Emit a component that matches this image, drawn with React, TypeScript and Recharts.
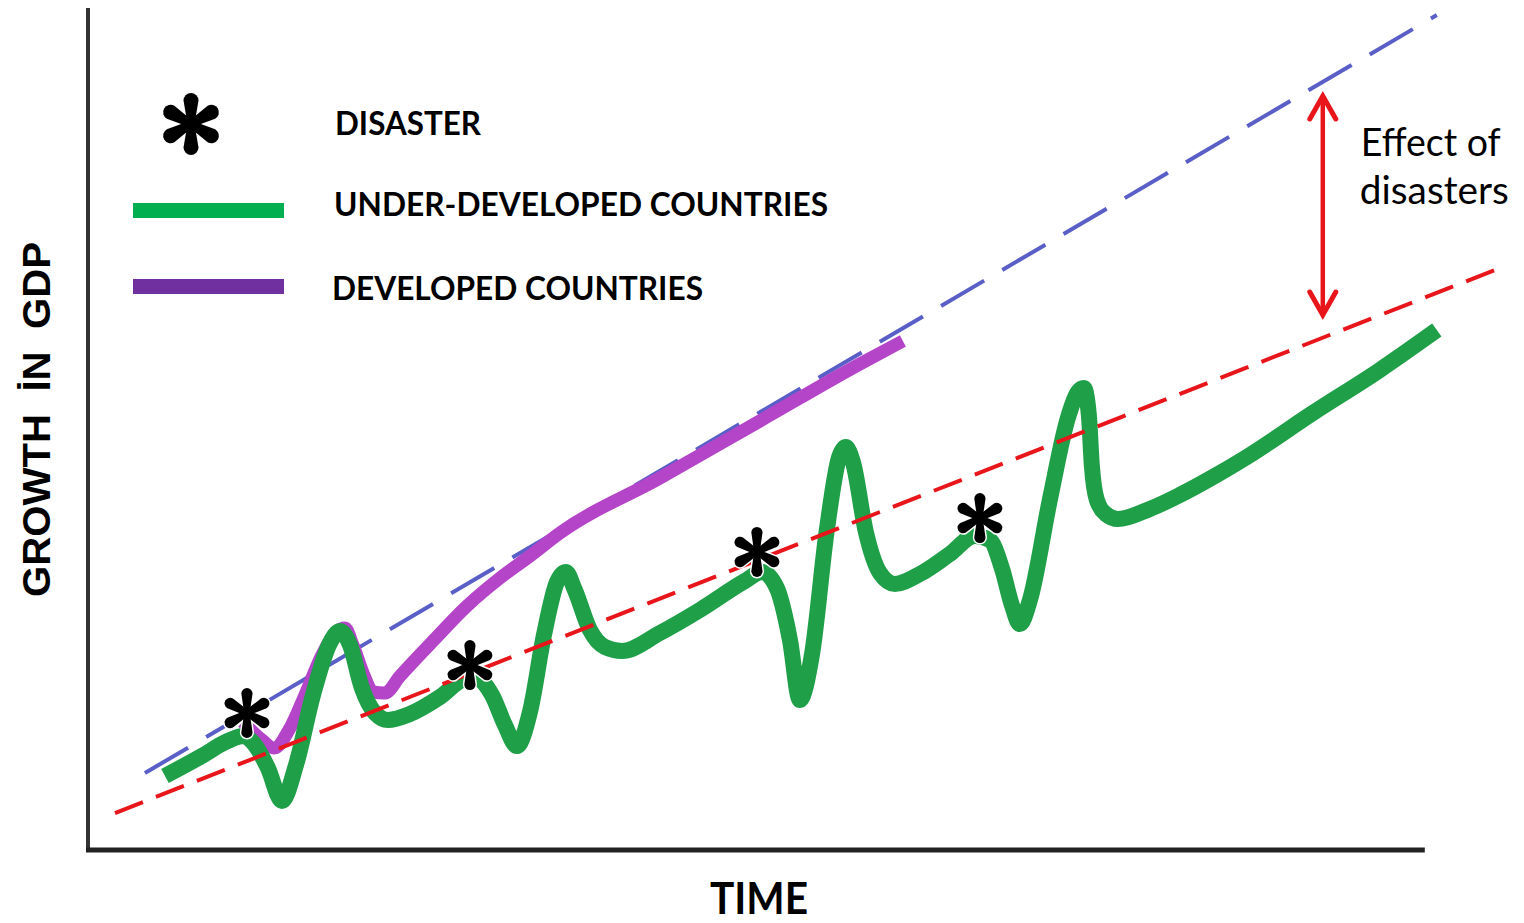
import React from 'react';
import { ComposedChart, Line, Scatter, XAxis, YAxis, ReferenceLine, Legend } from 'recharts';

// ---- data (time units on X, GDP growth units on Y) ----
const underDevTime = [5.76, 8.38, 10.47, 11.59, 12.49, 13.46, 14.51, 15.56, 16.83, 18.10, 18.85, 19.60, 20.49, 21.47, 22.44, 24.08, 26.33, 28.20, 29.02, 30.22, 31.19, 32.09, 33.06, 34.11, 35.08, 35.75, 36.42, 37.55, 38.67, 39.94, 42.78, 45.77, 49.14, 50.41, 51.53, 52.51, 53.25, 54.15, 55.27, 56.17, 56.69, 57.22, 58.19, 59.24, 60.36, 62.23, 64.47, 66.34, 67.46, 68.36, 69.11, 69.71, 70.46, 71.95, 73.30, 74.05, 74.49, 74.87, 75.09, 75.47, 76.14, 77.04, 79.43, 81.67, 84.29, 86.69, 91.62, 96.63, 100.90];
const underDevGdp = [8.81, 11.07, 12.98, 13.57, 12.50, 9.76, 5.83, 10.12, 18.45, 24.64, 26.07, 24.40, 19.29, 16.31, 15.48, 16.19, 18.21, 20.36, 20.48, 18.45, 14.88, 12.38, 16.43, 25.60, 31.90, 33.10, 30.95, 26.19, 24.17, 23.69, 25.83, 28.57, 32.02, 33.10, 31.19, 25.00, 17.86, 23.21, 38.10, 46.67, 47.98, 46.19, 37.86, 32.98, 31.67, 32.86, 35.24, 37.38, 36.90, 33.57, 29.17, 26.90, 29.76, 41.67, 51.43, 54.52, 55.00, 51.79, 45.83, 41.67, 40.00, 39.40, 40.60, 42.26, 44.52, 46.79, 52.02, 57.14, 61.90];

const developedTime = [11.59, 13.01, 13.91, 15.11, 16.23, 17.50, 18.55, 19.22, 19.82, 20.64, 21.32, 22.21, 23.34, 25.80, 28.35, 30.82, 33.06, 35.30, 42.78, 50.26, 57.74, 60.96];
const developedGdp = [15.24, 13.10, 12.14, 14.52, 18.45, 23.21, 25.95, 26.43, 24.40, 20.83, 18.81, 18.69, 20.71, 24.88, 29.05, 32.38, 35.00, 37.74, 44.29, 51.07, 57.86, 60.60];

const disasterTime = [11.89, 28.57, 50.04, 66.72];
const disasterGdp = [16.31, 22.02, 35.48, 39.52];

const potentialTime = [4.26, 100.9];
const potentialGdp = [9.17, 99.4];

const actualTrendTime = [2.02, 105.24];
const actualTrendGdp = [4.4, 69.05];

const effectTime = [92.37, 92.37];
const effectGdp = [90.12, 63.33];

const axisEnd = { time: 100, gdp: 100 };

const legendLabels = ['DISASTER', 'UNDER-DEVELOPED COUNTRIES', 'DEVELOPED COUNTRIES'];
const yLabel = 'GROWTH  İN  GDP';
const xLabel = 'TIME';
const effectLabel = ['Effect of', 'disasters'];

const zip = (ts: number[], gs: number[]) => ts.map((t, i) => ({ t, g: gs[i] }));

const underDevData = zip(underDevTime, underDevGdp);
const developedData = zip(developedTime, developedGdp);
const disasterData = zip(disasterTime, disasterGdp);
const potentialData = zip(potentialTime, potentialGdp);
const actualTrendData = zip(actualTrendTime, actualTrendGdp);

// ---- styles ----
const GREEN = '#1E9F48';
const PURPLE = '#B444C8';
const BLUE = '#5A5FC8';
const RED = '#E8161B';

const petal = (L: number, w1: number, w2: number) =>
  `M ${-w1} 0 L ${-w2} ${-(L - w2)} A ${w2} ${w2} 0 0 1 ${w2} ${-(L - w2)} L ${w1} 0 Z`;

const Asterisk = ({ cx, cy, L, w1, w2, halo }: any) => {
  const angles = [0, 60, 120, 180, 240, 300];
  return (
    <g transform={`translate(${cx},${cy})`}>
      {halo &&
        angles.map((a) => (
          <path key={'h' + a} d={petal(L, w1, w2)} transform={`rotate(${a})`} fill="#fff" stroke="#fff" strokeWidth={3} />
        ))}
      {angles.map((a) => (
        <path key={a} d={petal(L, w1, w2)} transform={`rotate(${a})`} fill="#000" />
      ))}
      <circle r={w1 * 1.6} fill="#000" />
    </g>
  );
};

const LegendContent = () => (
  <svg width={900} height={320} style={{ display: 'block', overflow: 'visible' }}>
    <Asterisk cx={191} cy={124} L={31} w1={3.5} w2={7.5} />
    <rect x={133} y={203} width={151} height={15} fill="#00B050" />
    <rect x={133} y={279} width={151} height={15} fill="#7030A0" />
    <text x={335} y={135} fontFamily="Lato" fontWeight={700} fontSize={32} fill="#000" textLength={146} lengthAdjust="spacingAndGlyphs">
      {legendLabels[0]}
    </text>
    <text x={334} y={216} fontFamily="Lato" fontWeight={700} fontSize={32} fill="#000" textLength={494} lengthAdjust="spacingAndGlyphs">
      {legendLabels[1]}
    </text>
    <text x={332} y={300} fontFamily="Lato" fontWeight={700} fontSize={32} fill="#000" textLength={371} lengthAdjust="spacingAndGlyphs">
      {legendLabels[2]}
    </text>
  </svg>
);

const YAxisShape = (p: any) => {
  const { x1, y1, y2 } = p;
  const bottom = Math.max(y1, y2);
  const top = Math.min(y1, y2);
  const bx = x1 - 38;
  const by = bottom - 253;
  return (
    <g>
      <line x1={x1} y1={top - 2} x2={x1} y2={bottom + 2} stroke="#333" strokeWidth={4} />
      <text
        x={bx}
        y={by}
        transform={`rotate(-90 ${bx} ${by})`}
        fontFamily="Liberation Sans, Arial, sans-serif"
        fontWeight={700}
        fontSize={39}
        fill="#000"
        textLength={355}
        lengthAdjust="spacingAndGlyphs"
        style={{ whiteSpace: 'pre' }}
      >
        {yLabel}
      </text>
    </g>
  );
};

const XAxisShape = (p: any) => {
  const { x1, y1, x2 } = p;
  const left = Math.min(x1, x2);
  const right = Math.max(x1, x2);
  return (
    <g>
      <line x1={left - 2} y1={y1} x2={right} y2={y1} stroke="#222" strokeWidth={5} />
      <text x={710} y={y1 + 64} fontFamily="Lato" fontWeight={700} fontSize={44} fill="#000" textLength={98} lengthAdjust="spacingAndGlyphs">
        {xLabel}
      </text>
    </g>
  );
};

const ArrowShape = (p: any) => {
  const { x1, y1, y2 } = p;
  const top = Math.min(y1, y2);
  const bottom = Math.max(y1, y2);
  const x = x1;
  return (
    <g>
      <line x1={x} y1={top + 3} x2={x} y2={bottom - 3} stroke={RED} strokeWidth={4.5} />
      <polyline points={`${x - 13},${top + 26} ${x},${top + 3} ${x + 13},${top + 26}`} fill="none" stroke={RED} strokeWidth={5} strokeLinecap="round" />
      <polyline points={`${x - 13},${bottom - 26} ${x},${bottom - 3} ${x + 13},${bottom - 26}`} fill="none" stroke={RED} strokeWidth={5} strokeLinecap="round" />
      <text x={x + 38} y={top + 63} fontFamily="Lato" fontSize={38} fill="#000" textLength={140} lengthAdjust="spacingAndGlyphs">
        {effectLabel[0]}
      </text>
      <text x={x + 37} y={top + 111} fontFamily="Lato" fontSize={38} fill="#000" textLength={149} lengthAdjust="spacingAndGlyphs">
        {effectLabel[1]}
      </text>
    </g>
  );
};

export default function App() {
  return (
    <div style={{ position: 'absolute', left: 0, top: 0, width: 1524, height: 923, background: '#fff' }}>
      <ComposedChart width={1524} height={923} margin={{ top: 10, right: 19, bottom: 73, left: 88 }}>
        <XAxis type="number" dataKey="t" domain={[0, 106]} hide />
        <YAxis type="number" dataKey="g" domain={[0, 100]} hide />
        <ReferenceLine segment={[{ x: 0, y: 0 }, { x: 0, y: axisEnd.gdp }]} shape={YAxisShape} />
        <ReferenceLine segment={[{ x: 0, y: 0 }, { x: axisEnd.time, y: 0 }]} shape={XAxisShape} />
        <Line data={potentialData} dataKey="g" type="linear" stroke={BLUE} strokeWidth={4} strokeDasharray="50 21" dot={false} activeDot={false} isAnimationActive={false} />
        <Line data={developedData} dataKey="g" type="monotone" stroke={PURPLE} strokeWidth={13} strokeLinejoin="round" dot={false} activeDot={false} isAnimationActive={false} />
        <Line data={underDevData} dataKey="g" type="monotone" stroke={GREEN} strokeWidth={16} strokeLinejoin="round" dot={false} activeDot={false} isAnimationActive={false} />
        <Line data={actualTrendData} dataKey="g" type="linear" stroke={RED} strokeWidth={4} strokeDasharray="30 14" dot={false} activeDot={false} isAnimationActive={false} />
        <Scatter
          data={disasterData}
          dataKey="g"
          isAnimationActive={false}
          shape={(s: any) => <Asterisk cx={s.cx} cy={s.cy} L={25} w1={2.8} w2={5.6} halo />}
        />
        <ReferenceLine segment={[{ x: effectTime[0], y: effectGdp[0] }, { x: effectTime[1], y: effectGdp[1] }]} shape={ArrowShape} />
        <Legend content={LegendContent} verticalAlign="middle" align="center" layout="horizontal" wrapperStyle={{ left: 0, top: 0, width: 900, height: 320 }} />
      </ComposedChart>
    </div>
  );
}
